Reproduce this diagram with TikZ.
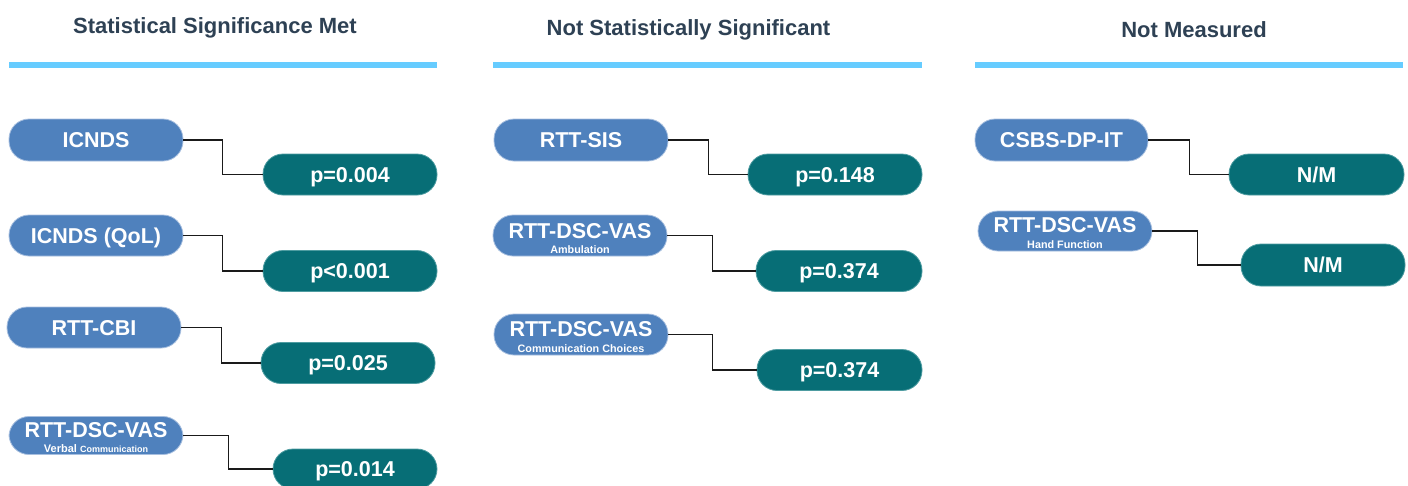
\documentclass[tikz,border=0pt]{standalone}
\usepackage{fontspec}
\setmainfont{Liberation Sans}
\usetikzlibrary{calc}

\definecolor{headtxt}{HTML}{2E4154}
\definecolor{headrule}{HTML}{66CCFF}
\definecolor{measfill}{HTML}{4F81BD}
\definecolor{measedge}{HTML}{A7BFDF}
\definecolor{valfill}{HTML}{076E76}
\definecolor{valedge}{HTML}{4E9CA1}
\definecolor{linkcol}{HTML}{1A1A1A}

\tikzset{
  heading/.style={anchor=base, text=headtxt, font=\fontsize{22}{24}\selectfont\bfseries},
  headbar/.style={draw=headrule, line width=6pt},
  pill/.style={rectangle, rounded corners=20pt, inner sep=0pt,
    minimum width=174pt, minimum height=41pt, line width=0.8pt,
    text=white, font=\fontsize{21.5}{23}\selectfont\bfseries,
    text height=15.4pt, text depth=0pt},
  measure/.style={pill, fill=measfill, draw=measedge},
  result/.style={pill, fill=valfill, draw=valedge},
  maintxt/.style={anchor=base, inner sep=0pt, text=white, font=\fontsize{21.5}{23}\selectfont\bfseries},
  subtxt/.style={anchor=base, inner sep=0pt, text=white, font=\fontsize{10.8}{12}\selectfont\bfseries},
  link/.style={draw=linkcol, line width=1.6pt}
}

\begin{document}
\begin{tikzpicture}[x=1pt, y=-1pt]
\useasboundingbox (0,0) rectangle (1408,485);

% column headings
\node[heading] (h1) at (215,33) {Statistical Significance Met};
\node[heading] (h2) at (688.5,35) {Not Statistically Significant};
\node[heading] (h3) at (1194,37) {Not Measured};
\draw[headbar] (9,65) -- (437,65);
\draw[headbar] (493,65) -- (922,65);
\draw[headbar] (975,65) -- (1403,65);

% significant outcomes
\node[measure, minimum height=42pt] (icnds) at (96,140) {ICNDS};
\node[result] (p1) at (350,174.5) {p=0.004};
\node[measure] (qol) at (96,235.5) {ICNDS (QoL)};
\node[result] (p2) at (350,271) {p<0.001};
\node[measure] (cbi) at (94,327.5) {RTT-CBI};
\node[result] (p3) at (348,363) {p=0.025};
\node[measure, minimum height=38pt] (verbal) at (96,435.5) {};
\node[maintxt] (verbal-t) at ($(verbal.center)+(0,1.5)$) {RTT-DSC-VAS};
\node[subtxt] (verbal-s) at ($(verbal.center)+(0,16.5)$)
  {\fontsize{11}{12}\selectfont Verbal \fontsize{9}{10}\selectfont Communication};
\node[result, minimum width=164pt, minimum height=40pt] (p4) at (355,469) {p=0.014};

% non-significant outcomes
\node[measure, minimum height=42pt] (sis) at (581,140) {RTT-SIS};
\node[result] (p5) at (835,174.5) {p=0.148};
\node[measure] (amb) at (580,235.5) {};
\node[maintxt] (amb-t) at ($(amb.center)+(0,3)$) {RTT-DSC-VAS};
\node[subtxt] (amb-s) at ($(amb.center)+(0,17.6)$) {Ambulation};
\node[result, minimum width=166pt] (p6) at (839,271) {p=0.374};
\node[measure] (comm) at (581,334.5) {};
\node[maintxt] (comm-t) at ($(comm.center)+(0,2.2)$) {RTT-DSC-VAS};
\node[subtxt] (comm-s) at ($(comm.center)+(0,17.6)$) {Communication Choices};
\node[result, minimum width=165pt] (p7) at (839.5,370) {p=0.374};

% outcomes not measured
\node[measure, minimum width=173pt, minimum height=42pt] (csbs) at (1061.5,140) {CSBS-DP-IT};
\node[result, minimum width=175pt] (nm1) at (1316.5,174.5) {N/M};
\node[measure, minimum height=40pt] (hand) at (1065,231) {};
\node[maintxt] (hand-t) at ($(hand.center)+(0,1.5)$) {RTT-DSC-VAS};
\node[subtxt] (hand-s) at ($(hand.center)+(0,17.2)$) {Hand Function};
\node[result, minimum width=164pt, minimum height=42pt] (nm2) at (1323,265) {N/M};

% elbow connectors from each measure to its result
\draw[link] (icnds.east) -- ++(39,0) |- (p1.west);
\draw[link] (qol.east) -- ++(39,0) |- (p2.west);
\draw[link] (cbi.east) -- ++(40,0) |- (p3.west);
\draw[link] (verbal.east) -- ++(45,0) |- (p4.west);
\draw[link] (sis.east) -- ++(40,0) |- (p5.west);
\draw[link] (amb.east) -- ++(45,0) |- (p6.west);
\draw[link] (comm.east) -- ++(44,0) |- (p7.west);
\draw[link] (csbs.east) -- ++(41,0) |- (nm1.west);
\draw[link] (hand.east) -- ++(45,0) |- (nm2.west);
\end{tikzpicture}
\end{document}
